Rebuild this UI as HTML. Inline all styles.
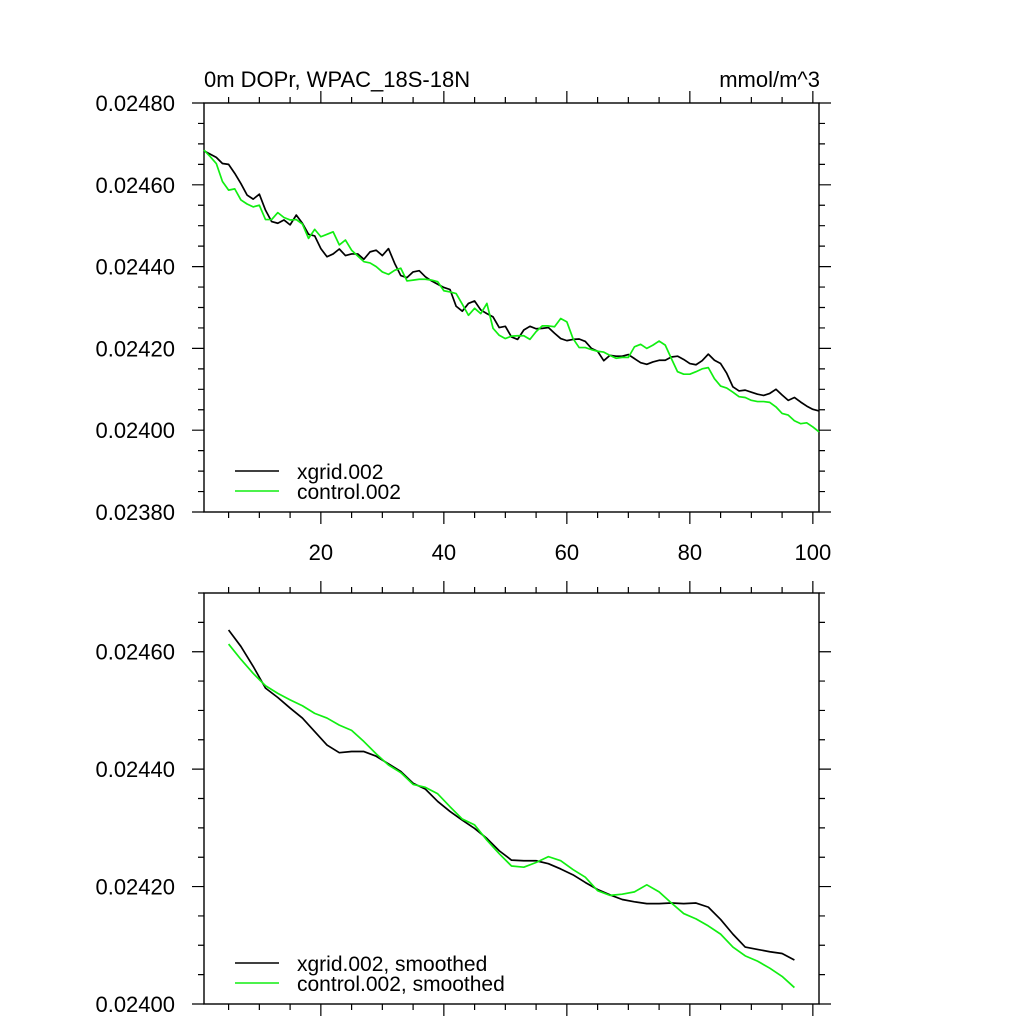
<!DOCTYPE html>
<html><head><meta charset="utf-8"><style>
html,body{margin:0;padding:0;background:#fff;}
svg{display:block;font-family:"Liberation Sans",sans-serif;}
</style></head><body>
<svg id="c" width="1024" height="1024" viewBox="0 0 1024 1024">
<text x="204" y="87" font-size="22">0m DOPr, WPAC_18S-18N</text>
<text x="820" y="87" font-size="22" text-anchor="end">mmol/m^3</text>
</svg>
<script>
const topX = [];
const topBlack = [0.024683,0.024675,0.024667,0.024652,0.024650,0.024628,0.024603,0.024575,0.024565,0.024577,
0.024538,0.024510,0.024506,0.024514,0.024502,0.024526,0.024506,0.024479,0.024475,0.024444,
0.024424,0.024431,0.024443,0.024427,0.024431,0.024431,0.024418,0.024436,0.024440,0.024427,
0.024444,0.024408,0.024378,0.024373,0.024387,0.024390,0.024375,0.024365,0.024357,0.024349,
0.024344,0.024303,0.024291,0.024310,0.024316,0.024294,0.024285,0.024277,0.024251,0.024254,
0.024228,0.024222,0.024245,0.024254,0.024248,0.024249,0.024251,0.024237,0.024224,0.024219,
0.024222,0.024223,0.024217,0.024200,0.024193,0.024170,0.024183,0.024181,0.024181,0.024185,
0.024175,0.024165,0.024161,0.024167,0.024171,0.024171,0.024179,0.024181,0.024173,0.024163,
0.024160,0.024170,0.024186,0.024171,0.024163,0.024139,0.024106,0.024096,0.024098,0.024093,
0.024088,0.024085,0.024090,0.024100,0.024086,0.024073,0.024080,0.024069,0.024059,0.024051,0.024047];
const topGreen = [0.024685,0.024669,0.024652,0.024608,0.024587,0.024590,0.024563,0.024553,0.024546,0.024550,
0.024515,0.024515,0.024532,0.024520,0.024514,0.024515,0.024504,0.024469,0.024491,0.024473,
0.024479,0.024485,0.024453,0.024465,0.024440,0.024426,0.024412,0.024409,0.024400,0.024387,
0.024381,0.024391,0.024396,0.024365,0.024367,0.024369,0.024369,0.024367,0.024363,0.024341,
0.024338,0.024334,0.024308,0.024281,0.024298,0.024285,0.024310,0.024249,0.024232,0.024224,
0.024230,0.024231,0.024231,0.024222,0.024241,0.024255,0.024255,0.024253,0.024273,0.024265,
0.024224,0.024202,0.024202,0.024197,0.024193,0.024191,0.024183,0.024176,0.024178,0.024178,
0.024204,0.024210,0.024200,0.024208,0.024218,0.024208,0.024175,0.024143,0.024137,0.024137,
0.024143,0.024150,0.024153,0.024126,0.024108,0.024103,0.024093,0.024082,0.024080,0.024073,
0.024070,0.024070,0.024068,0.024057,0.024041,0.024037,0.024023,0.024016,0.024018,0.024008,0.023996];
for (let i = 1; i <= 101; i++) topX.push(i);
const botX = [5,7,9,11,13,15,17,19,21,23,25,27,29,31,33,35,37,39,41,43,45,47,49,51,53,55,57,59,61,63,65,67,69,71,73,75,77,79,81,83,85,87,89,91,93,95,97];
const botBlack = [0.024637,0.024609,0.024575,0.024538,0.024522,0.024504,0.024487,0.024464,0.024441,0.024428,0.024430,0.024430,0.024422,0.024409,0.024396,0.024376,0.024366,0.024345,0.024328,0.024313,0.024299,0.024282,0.024261,0.024245,0.024244,0.024244,0.024239,0.024230,0.024220,0.024207,0.024195,0.024186,0.024178,0.024174,0.024171,0.024171,0.024172,0.024171,0.024172,0.024165,0.024144,0.024119,0.024097,0.024093,0.024089,0.024086,0.024075];
const botGreen = [0.024613,0.024587,0.024563,0.024542,0.024529,0.024518,0.024508,0.024495,0.024487,0.024475,0.024466,0.024447,0.024426,0.024407,0.024394,0.024374,0.024369,0.024358,0.024336,0.024315,0.024305,0.024279,0.024256,0.024235,0.024233,0.024241,0.024251,0.024244,0.024229,0.024216,0.024193,0.024185,0.024187,0.024191,0.024203,0.024191,0.024172,0.024154,0.024145,0.024133,0.024119,0.024097,0.024082,0.024073,0.024061,0.024047,0.024028];
const xTicks = [20,40,60,80,100];
const topYTicks = ["0.02380","0.02400","0.02420","0.02440","0.02460","0.02480"];
const botYTicks = ["0.02400","0.02420","0.02440","0.02460"];

const NS = "http://www.w3.org/2000/svg";
const svg = document.getElementById('c');
function mk(tag, attrs, parent) {
  const e = document.createElementNS(NS, tag);
  for (const k in attrs) e.setAttribute(k, attrs[k]);
  (parent || svg).appendChild(e);
  return e;
}
const L = 204, R = 819;
const sx = v => L + (v - 1) / 100 * (R - L);

function panel(name, top, bottom, y0, y1, yTicks, showXLabels, series, legendNames, legendY) {
  const g = mk('g', {});
  
  
  const sy = v => bottom - (v - y0) / (y1 - y0) * (bottom - top);
  let d = '';
  for (let v = 5; v <= 100; v += 5) {
    const x = sx(v), len = v % 20 === 0 ? 12 : 6;
    d += `M${x},${bottom}v${len}M${x},${top}v${-len}`;
  }
  const nMin = Math.round((y1 - y0) / 0.00005);
  for (let i = 0; i <= nMin; i++) {
    const v = y0 + i * 0.00005, y = sy(v), len = i % 4 === 0 ? 12 : 6;
    d += `M${L},${y}h${-len}M${R},${y}h${len}`;
  }
  const t = mk('path', {d: d, stroke: '#000', 'stroke-width': 1.2, fill: 'none'}, g);
  
  
  const f = mk('rect', {x: L, y: top, width: R - L, height: bottom - top, fill: 'none', stroke: '#000', 'stroke-width': 1.4}, g);
  
  
  yTicks.forEach(lbl => {
    const tx = mk('text', {x: 175, y: sy(parseFloat(lbl)) + 8, 'font-size': 22, 'text-anchor': 'end'}, g);
    tx.textContent = lbl;
    
    
  });
  if (showXLabels) xTicks.forEach(v => {
    const tx = mk('text', {x: sx(v), y: 560, 'font-size': 22, 'text-anchor': 'middle'}, g);
    tx.textContent = String(v);
    
    
  });
  series.forEach((s, i) => {
    const pts = s.ys.map((v, j) => sx(s.xs[j]).toFixed(2) + ',' + sy(v).toFixed(2)).join(' ');
    const pl = mk('polyline', {points: pts, fill: 'none', stroke: s.color, 'stroke-width': 1.7, 'stroke-linejoin': 'round'}, g);
    
    
    const ly = legendY + i * 20;
    const ll = mk('line', {x1: 235, x2: 279, y1: ly, y2: ly, stroke: s.color, 'stroke-width': 1.6}, g);
    
    
    const lt = mk('text', {x: 297, y: ly + 8, 'font-size': 21}, g);
    lt.textContent = legendNames[i];
    
    
  });
}
panel('top-panel', 103, 512, 0.02380, 0.02480, topYTicks, true,
  [{xs: topX, ys: topBlack, color: '#000', name: 'xgrid-line'},
   {xs: topX, ys: topGreen, color: '#11ee11', name: 'control-line'}],
  ['xgrid.002', 'control.002'], 471);
panel('bottom-panel', 593, 1004, 0.02400, 0.02470, botYTicks, false,
  [{xs: botX, ys: botBlack, color: '#000', name: 'xgrid-smoothed-line'},
   {xs: botX, ys: botGreen, color: '#11ee11', name: 'control-smoothed-line'}],
  ['xgrid.002, smoothed', 'control.002, smoothed'], 963);
</script>
</body></html>
